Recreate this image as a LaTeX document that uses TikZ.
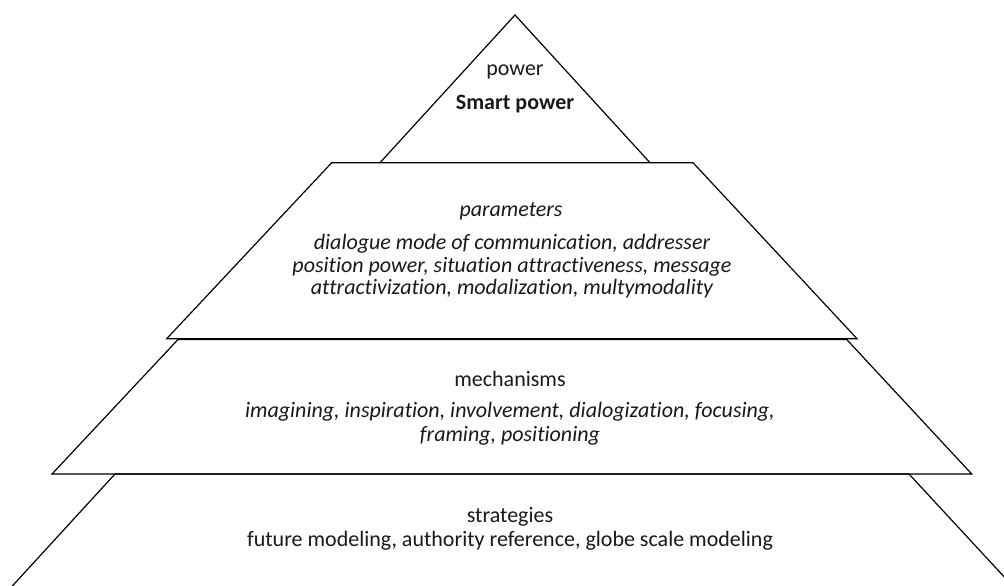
\documentclass[tikz,border=0pt]{standalone}
\usepackage{fontspec}
\setmainfont{Carlito}[Ligatures=NoCommon]
\begin{document}
\begin{tikzpicture}[x=1pt,y=-1pt,
  edge/.style={line width=1.2pt, line join=miter, draw=black},
  txt/.style={font=\fontsize{22}{22.6}\selectfont, align=center, inner sep=0pt, text=black!90},
  txtb/.style={txt, font=\fontsize{22}{22.6}\selectfont\bfseries},
  txti/.style={txt, font=\fontsize{22}{22.6}\selectfont\itshape},
  txtil/.style={txt, font=\fontsize{22}{23.4}\selectfont\itshape}]
\useasboundingbox (0,0) rectangle (1004,586);
\begin{scope}
  \clip (0,0) rectangle (1004,586);
  % apex triangle
  \draw[edge] (380,162.7) -- (515,15) -- (650,162.7);
  % parameters layer
  \draw[edge] (331.7,162.7) -- (693,162.7) -- (857,338.7) -- (166.7,338.7) -- cycle;
  % mechanisms layer
  \draw[edge] (178,339.5) -- (846.7,339.5) -- (971.7,474) -- (52,474) -- cycle;
  % strategies layer, running off the bottom
  \draw[edge] (115,474) -- (909,474) -- (1020,594) -- (5,594) -- cycle;
\end{scope}
\node[txt]   (power)    at (515,72)    {power};
\node[txtb]  (smart)    at (515,104)   {Smart power};
\node[txti]  (parhead)  at (511,211)   {parameters};
\node[txti]  (parlist)  at (512,266.5) {dialogue mode of communication, addresser\\position power, situation attractiveness, message\\attractivization, modalization, multymodality};
\node[txt]   (mechhead) at (510,379)   {mechanisms};
\node[txtil] (mechlist) at (510,423.7) {imagining, inspiration, involvement, dialogization, focusing,\\framing, positioning};
\node[txt]   (strhead)  at (510,516.4) {strategies};
\node[txt]   (strlist)  at (510,540.4) {future modeling, authority reference, globe scale modeling};
\end{tikzpicture}
\end{document}
